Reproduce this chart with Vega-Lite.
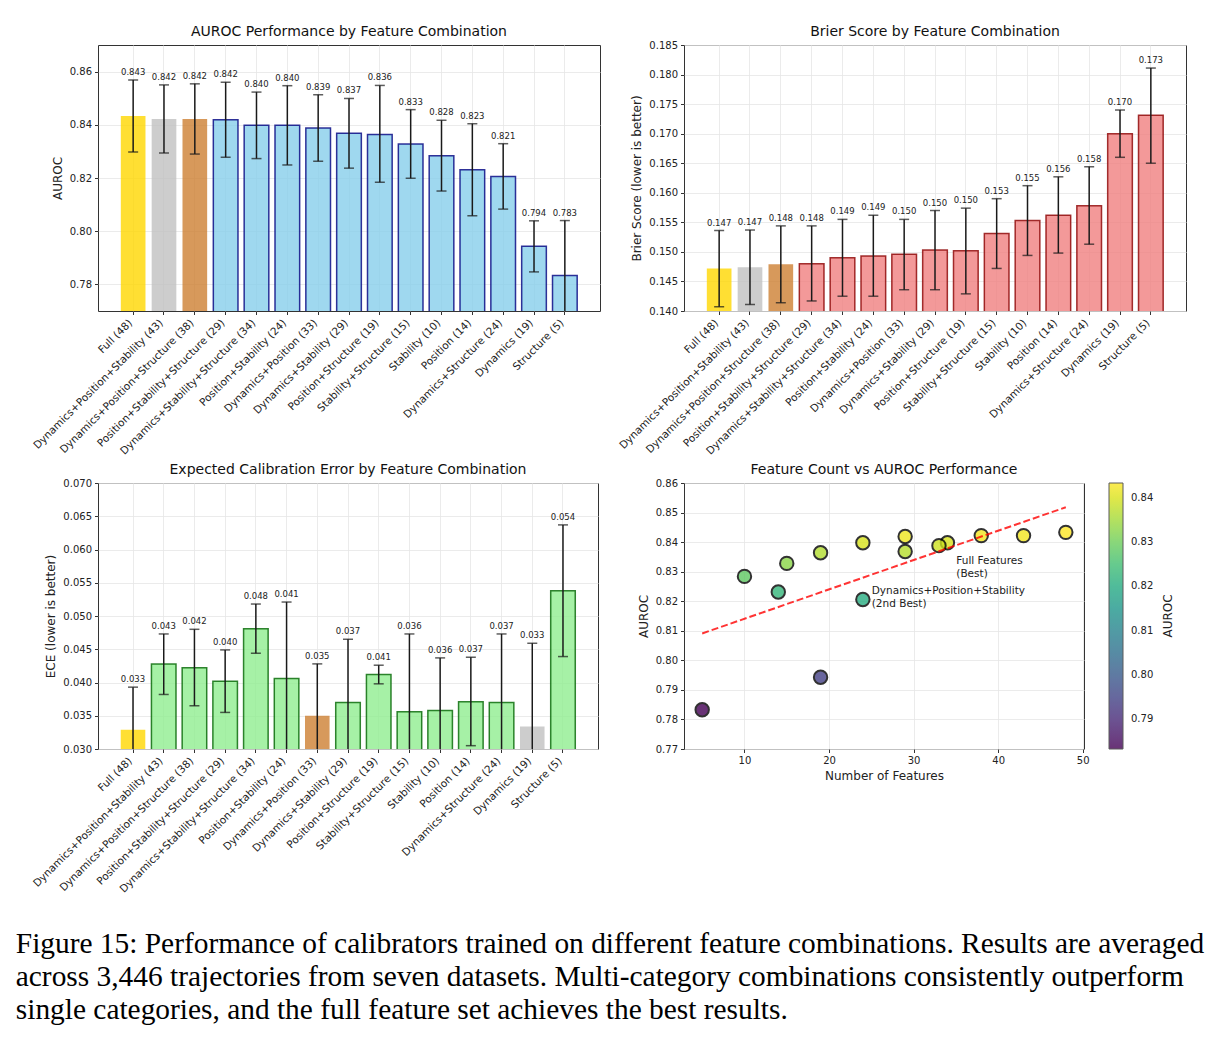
{
  "$schema": "https://vega.github.io/schema/vega-lite/v6.json",
  "background": "white",
  "padding": {"left": 15, "top": 24, "right": 5, "bottom": 5},
  "title": {
    "text": [
      "Figure 15: Performance of calibrators trained on different feature combinations. Results are averaged",
      "across 3,446 trajectories from seven datasets. Multi-category combinations consistently outperform",
      "single categories, and the full feature set achieves the best results."
    ],
    "orient": "bottom",
    "anchor": "start",
    "frame": "bounds",
    "font": "Liberation Serif",
    "fontSize": 29.4,
    "fontWeight": "normal",
    "lineHeight": 33,
    "color": "black",
    "offset": 35,
    "dx": -15
  },
  "datasets": {
    "feat": [
      {"name": "Full (48)", "n": 48, "auroc": 0.8433, "auroc_lo": 0.8298, "auroc_hi": 0.8568, "auroc_rank": "gold", "brier": 0.1472, "brier_lo": 0.1407, "brier_hi": 0.1536, "brier_rank": "gold", "ece": 0.0329, "ece_lo": 0.0265, "ece_hi": 0.0393, "ece_rank": "gold"},
      {"name": "Dynamics+Position+Stability (43)", "n": 43, "auroc": 0.8422, "auroc_lo": 0.8294, "auroc_hi": 0.8550, "auroc_rank": "silver", "brier": 0.1474, "brier_lo": 0.1411, "brier_hi": 0.1537, "brier_rank": "silver", "ece": 0.0428, "ece_lo": 0.0382, "ece_hi": 0.0473, "ece_rank": "other"},
      {"name": "Dynamics+Position+Structure (38)", "n": 38, "auroc": 0.8422, "auroc_lo": 0.8290, "auroc_hi": 0.8554, "auroc_rank": "bronze", "brier": 0.1479, "brier_lo": 0.1414, "brier_hi": 0.1544, "brier_rank": "bronze", "ece": 0.0422, "ece_lo": 0.0365, "ece_hi": 0.0480, "ece_rank": "other"},
      {"name": "Position+Stability+Structure (29)", "n": 29, "auroc": 0.8419, "auroc_lo": 0.8278, "auroc_hi": 0.8560, "auroc_rank": "other", "brier": 0.1480, "brier_lo": 0.1417, "brier_hi": 0.1544, "brier_rank": "other", "ece": 0.0402, "ece_lo": 0.0355, "ece_hi": 0.0449, "ece_rank": "other"},
      {"name": "Dynamics+Stability+Structure (34)", "n": 34, "auroc": 0.8398, "auroc_lo": 0.8273, "auroc_hi": 0.8523, "auroc_rank": "other", "brier": 0.1490, "brier_lo": 0.1425, "brier_hi": 0.1555, "brier_rank": "other", "ece": 0.0481, "ece_lo": 0.0444, "ece_hi": 0.0518, "ece_rank": "other"},
      {"name": "Position+Stability (24)", "n": 24, "auroc": 0.8398, "auroc_lo": 0.8249, "auroc_hi": 0.8547, "auroc_rank": "other", "brier": 0.1493, "brier_lo": 0.1425, "brier_hi": 0.1562, "brier_rank": "other", "ece": 0.0406, "ece_lo": 0.0291, "ece_hi": 0.0521, "ece_rank": "other"},
      {"name": "Dynamics+Position (33)", "n": 33, "auroc": 0.8388, "auroc_lo": 0.8263, "auroc_hi": 0.8513, "auroc_rank": "other", "brier": 0.1496, "brier_lo": 0.1436, "brier_hi": 0.1555, "brier_rank": "other", "ece": 0.0350, "ece_lo": 0.0272, "ece_hi": 0.0428, "ece_rank": "bronze"},
      {"name": "Dynamics+Stability (29)", "n": 29, "auroc": 0.8368, "auroc_lo": 0.8237, "auroc_hi": 0.8499, "auroc_rank": "other", "brier": 0.1503, "brier_lo": 0.1436, "brier_hi": 0.1570, "brier_rank": "other", "ece": 0.0370, "ece_lo": 0.0275, "ece_hi": 0.0465, "ece_rank": "other"},
      {"name": "Position+Structure (19)", "n": 19, "auroc": 0.8364, "auroc_lo": 0.8184, "auroc_hi": 0.8548, "auroc_rank": "other", "brier": 0.1502, "brier_lo": 0.1429, "brier_hi": 0.1574, "brier_rank": "other", "ece": 0.0412, "ece_lo": 0.0398, "ece_hi": 0.0426, "ece_rank": "other"},
      {"name": "Stability+Structure (15)", "n": 15, "auroc": 0.8328, "auroc_lo": 0.8199, "auroc_hi": 0.8457, "auroc_rank": "other", "brier": 0.1531, "brier_lo": 0.1472, "brier_hi": 0.1590, "brier_rank": "other", "ece": 0.0356, "ece_lo": 0.0240, "ece_hi": 0.0473, "ece_rank": "other"},
      {"name": "Stability (10)", "n": 10, "auroc": 0.8284, "auroc_lo": 0.8151, "auroc_hi": 0.8417, "auroc_rank": "other", "brier": 0.1553, "brier_lo": 0.1494, "brier_hi": 0.1612, "brier_rank": "other", "ece": 0.0358, "ece_lo": 0.0279, "ece_hi": 0.0437, "ece_rank": "other"},
      {"name": "Position (14)", "n": 14, "auroc": 0.8231, "auroc_lo": 0.8058, "auroc_hi": 0.8404, "auroc_rank": "other", "brier": 0.1562, "brier_lo": 0.1498, "brier_hi": 0.1627, "brier_rank": "other", "ece": 0.0371, "ece_lo": 0.0305, "ece_hi": 0.0438, "ece_rank": "other"},
      {"name": "Dynamics+Structure (24)", "n": 24, "auroc": 0.8206, "auroc_lo": 0.8083, "auroc_hi": 0.8329, "auroc_rank": "other", "brier": 0.1578, "brier_lo": 0.1513, "brier_hi": 0.1644, "brier_rank": "other", "ece": 0.0370, "ece_lo": 0.0267, "ece_hi": 0.0473, "ece_rank": "other"},
      {"name": "Dynamics (19)", "n": 19, "auroc": 0.7943, "auroc_lo": 0.7847, "auroc_hi": 0.8039, "auroc_rank": "other", "brier": 0.1700, "brier_lo": 0.1660, "brier_hi": 0.1740, "brier_rank": "other", "ece": 0.0334, "ece_lo": 0.0209, "ece_hi": 0.0459, "ece_rank": "silver"},
      {"name": "Structure (5)", "n": 5, "auroc": 0.7833, "auroc_lo": 0.7626, "auroc_hi": 0.8040, "auroc_rank": "other", "brier": 0.1731, "brier_lo": 0.1650, "brier_hi": 0.1811, "brier_rank": "other", "ece": 0.0538, "ece_lo": 0.0439, "ece_hi": 0.0637, "ece_rank": "other"}
    ],
    "trend": [
      {"n": 5, "fit": 0.8091},
      {"n": 48, "fit": 0.8518}
    ],
    "notes": [
      {"n": 35.05, "y": 0.8336, "note": "Full Features\n(Best)"},
      {"n": 25.05, "y": 0.8235, "note": "Dynamics+Position+Stability\n(2nd Best)"}
    ]
  },
  "columns": 2,
  "align": "none",
  "bounds": "flush",
  "spacing": {"row": 172, "column": 84},
  "resolve": {"scale": {"x": "independent", "y": "independent", "fill": "independent", "stroke": "independent", "color": "independent"}},
  "concat": [
    {
      "title": {"text": "AUROC Performance by Feature Combination", "offset": 6},
      "width": 502,
      "height": 266,
      "data": {"name": "feat"},
      "encoding": {
        "x": {"field": "name", "type": "nominal", "sort": null, "title": null,
          "scale": {"paddingInner": 0.2, "paddingOuter": 0.74},
          "axis": {"grid": true, "labelAngle": -45, "labelAlign": "right", "labelBaseline": "top", "labelLimit": 400, "bandPosition": 0.5, "labelOffset": -6, "labelFontSize": 10.5}}
      },
      "layer": [
        {"mark": {"type": "bar", "clip": true, "fillOpacity": 0.8, "strokeOpacity": 0.8, "strokeWidth": 1.5},
         "encoding": {
           "y": {"field": "auroc", "type": "quantitative", "title": "AUROC",
             "scale": {"domain": [0.77, 0.87], "zero": false, "nice": false},
             "axis": {"values": [0.78, 0.80, 0.82, 0.84, 0.86], "format": ".2f", "tickCount": 30}},
           "fill": {"field": "auroc_rank", "type": "nominal", "legend": null,
             "scale": {"domain": ["gold", "silver", "bronze", "other"], "range": ["#FFD700", "#C0C0C0", "#CD7F32", "#87CEEB"]}},
           "stroke": {"field": "auroc_rank", "type": "nominal", "legend": null,
             "scale": {"domain": ["gold", "silver", "bronze", "other"], "range": ["transparent", "transparent", "transparent", "#000080"]}}
         }},
        {"mark": {"type": "rule", "clip": true, "color": "#1a1a1a", "strokeWidth": 1.5},
         "encoding": {"y": {"field": "auroc_lo", "type": "quantitative", "title": "AUROC"}, "y2": {"field": "auroc_hi"}}},
        {"mark": {"type": "tick", "clip": true, "color": "#1a1a1a", "thickness": 1.5, "size": 10, "orient": "horizontal"},
         "encoding": {"y": {"field": "auroc_lo", "type": "quantitative", "title": "AUROC"}}},
        {"mark": {"type": "tick", "clip": true, "color": "#1a1a1a", "thickness": 1.5, "size": 10, "orient": "horizontal"},
         "encoding": {"y": {"field": "auroc_hi", "type": "quantitative", "title": "AUROC"}}},
        {"mark": {"type": "text", "baseline": "bottom", "dy": -3, "fontSize": 8.5, "color": "#222"},
         "encoding": {"y": {"field": "auroc_hi", "type": "quantitative", "title": "AUROC"},
           "text": {"field": "auroc", "type": "quantitative", "format": ".3f"}}}
      ]
    },
    {
      "title": {"text": "Brier Score by Feature Combination", "offset": 1},
      "width": 502,
      "height": 266,
      "data": {"name": "feat"},
      "encoding": {
        "x": {"field": "name", "type": "nominal", "sort": null, "title": null,
          "scale": {"paddingInner": 0.2, "paddingOuter": 0.74},
          "axis": {"grid": true, "labelAngle": -45, "labelAlign": "right", "labelBaseline": "top", "labelLimit": 400, "bandPosition": 0.5, "labelOffset": -6, "labelFontSize": 10.5}}
      },
      "layer": [
        {"mark": {"type": "bar", "clip": true, "fillOpacity": 0.8, "strokeOpacity": 0.8, "strokeWidth": 1.5},
         "encoding": {
           "y": {"field": "brier", "type": "quantitative", "title": "Brier Score (lower is better)",
             "scale": {"domain": [0.14, 0.185], "zero": false, "nice": false},
             "axis": {"values": [0.14, 0.145, 0.15, 0.155, 0.16, 0.165, 0.17, 0.175, 0.18, 0.185], "format": ".3f", "tickCount": 30}},
           "fill": {"field": "brier_rank", "type": "nominal", "legend": null,
             "scale": {"domain": ["gold", "silver", "bronze", "other"], "range": ["#FFD700", "#C0C0C0", "#CD7F32", "#F08080"]}},
           "stroke": {"field": "brier_rank", "type": "nominal", "legend": null,
             "scale": {"domain": ["gold", "silver", "bronze", "other"], "range": ["transparent", "transparent", "transparent", "#8B0000"]}}
         }},
        {"mark": {"type": "rule", "clip": true, "color": "#1a1a1a", "strokeWidth": 1.5},
         "encoding": {"y": {"field": "brier_lo", "type": "quantitative", "title": "Brier Score (lower is better)"}, "y2": {"field": "brier_hi"}}},
        {"mark": {"type": "tick", "clip": true, "color": "#1a1a1a", "thickness": 1.5, "size": 10, "orient": "horizontal"},
         "encoding": {"y": {"field": "brier_lo", "type": "quantitative", "title": "Brier Score (lower is better)"}}},
        {"mark": {"type": "tick", "clip": true, "color": "#1a1a1a", "thickness": 1.5, "size": 10, "orient": "horizontal"},
         "encoding": {"y": {"field": "brier_hi", "type": "quantitative", "title": "Brier Score (lower is better)"}}},
        {"mark": {"type": "text", "baseline": "bottom", "dy": -3, "fontSize": 8.5, "color": "#222"},
         "encoding": {"y": {"field": "brier_hi", "type": "quantitative", "title": "Brier Score (lower is better)"},
           "text": {"field": "brier", "type": "quantitative", "format": ".3f"}}}
      ]
    },
    {
      "title": {"text": "Expected Calibration Error by Feature Combination", "offset": 1},
      "width": 500,
      "height": 266,
      "data": {"name": "feat"},
      "encoding": {
        "x": {"field": "name", "type": "nominal", "sort": null, "title": null,
          "scale": {"paddingInner": 0.2, "paddingOuter": 0.74},
          "axis": {"grid": true, "labelAngle": -45, "labelAlign": "right", "labelBaseline": "top", "labelLimit": 400, "bandPosition": 0.5, "labelOffset": -6, "labelFontSize": 10.5}}
      },
      "layer": [
        {"mark": {"type": "bar", "clip": true, "fillOpacity": 0.8, "strokeOpacity": 0.8, "strokeWidth": 1.5},
         "encoding": {
           "y": {"field": "ece", "type": "quantitative", "title": "ECE (lower is better)",
             "scale": {"domain": [0.03, 0.07], "zero": false, "nice": false},
             "axis": {"values": [0.03, 0.035, 0.04, 0.045, 0.05, 0.055, 0.06, 0.065, 0.07], "format": ".3f", "tickCount": 30}},
           "fill": {"field": "ece_rank", "type": "nominal", "legend": null,
             "scale": {"domain": ["gold", "silver", "bronze", "other"], "range": ["#FFD700", "#C0C0C0", "#CD7F32", "#90EE90"]}},
           "stroke": {"field": "ece_rank", "type": "nominal", "legend": null,
             "scale": {"domain": ["gold", "silver", "bronze", "other"], "range": ["transparent", "transparent", "transparent", "#006400"]}}
         }},
        {"mark": {"type": "rule", "clip": true, "color": "#1a1a1a", "strokeWidth": 1.5},
         "encoding": {"y": {"field": "ece_lo", "type": "quantitative", "title": "ECE (lower is better)"}, "y2": {"field": "ece_hi"}}},
        {"mark": {"type": "tick", "clip": true, "color": "#1a1a1a", "thickness": 1.5, "size": 10, "orient": "horizontal"},
         "encoding": {"y": {"field": "ece_lo", "type": "quantitative", "title": "ECE (lower is better)"}}},
        {"mark": {"type": "tick", "clip": true, "color": "#1a1a1a", "thickness": 1.5, "size": 10, "orient": "horizontal"},
         "encoding": {"y": {"field": "ece_hi", "type": "quantitative", "title": "ECE (lower is better)"}}},
        {"mark": {"type": "text", "baseline": "bottom", "dy": -3, "fontSize": 8.5, "color": "#222"},
         "encoding": {"y": {"field": "ece_hi", "type": "quantitative", "title": "ECE (lower is better)"},
           "text": {"field": "ece", "type": "quantitative", "format": ".3f"}}}
      ]
    },
    {
      "title": {"text": "Feature Count vs AUROC Performance", "offset": 1},
      "width": 400,
      "height": 266,
      "layer": [
        {"data": {"name": "feat"},
         "mark": {"type": "circle", "size": 180, "opacity": 0.8, "stroke": "black", "strokeWidth": 2},
         "encoding": {
           "x": {"field": "n", "type": "quantitative", "title": "Number of Features",
             "scale": {"domain": [2.85, 50.15], "zero": false, "nice": false},
             "axis": {"values": [10, 20, 30, 40, 50], "tickCount": 30}},
           "y": {"field": "auroc", "type": "quantitative", "title": "AUROC",
             "scale": {"domain": [0.77, 0.86], "zero": false, "nice": false},
             "axis": {"values": [0.77, 0.78, 0.79, 0.8, 0.81, 0.82, 0.83, 0.84, 0.85, 0.86], "format": ".2f", "tickCount": 30}},
           "color": {"field": "auroc", "type": "quantitative",
             "scale": {"scheme": "viridis", "domain": [0.7833, 0.8433], "nice": false, "zero": false},
             "legend": {"type": "gradient", "direction": "vertical", "title": "AUROC", "titleOrient": "right",
               "gradientLength": 266, "gradientThickness": 14, "gradientStrokeColor": "#333", "gradientStrokeWidth": 1,
               "gradientOpacity": 0.8, "values": [0.79, 0.8, 0.81, 0.82, 0.83, 0.84], "format": ".2f",
               "offset": 25, "labelOffset": 8, "titlePadding": 10, "labelFontSize": 10, "labelColor": "#222", "titleFontSize": 12, "titleFontWeight": "normal", "titleColor": "#222",
               "labelOverlap": false, "encode": {"title": {"update": {"angle": {"value": -90}, "baseline": {"value": "top"}}}}}}
         }},
        {"data": {"name": "trend"},
         "mark": {"type": "line", "color": "red", "strokeWidth": 2, "opacity": 0.8, "strokeDash": [7, 3]},
         "encoding": {
           "x": {"field": "n", "type": "quantitative", "title": "Number of Features"},
           "y": {"field": "fit", "type": "quantitative", "title": "AUROC"}
         }},
        {"data": {"name": "notes"},
         "mark": {"type": "text", "align": "left", "baseline": "middle", "fontSize": 10.5, "lineBreak": "\n", "lineHeight": 13, "color": "#222"},
         "encoding": {
           "x": {"field": "n", "type": "quantitative", "title": "Number of Features"},
           "y": {"field": "y", "type": "quantitative", "title": "AUROC"},
           "text": {"field": "note"}
         }}
      ]
    }
  ],
  "config": {
    "font": "DejaVu Sans",
    "view": {"stroke": "#333", "strokeWidth": 1},
    "title": {"font": "DejaVu Sans", "fontSize": 14, "fontWeight": "normal", "offset": 6, "frame": "group", "color": "#111"},
    "axis": {"domain": false, "tickColor": "#333", "tickSize": 3.5, "tickWidth": 1, "labelFontSize": 10, "labelColor": "#222",
      "titleFontSize": 12, "titleFontWeight": "normal", "titleColor": "#222", "gridColor": "#e6e6e6", "gridWidth": 0.8,
      "labelPadding": 3, "titlePadding": 5, "labelFlush": false, "labelOverlap": false, "labelFont": "DejaVu Sans", "titleFont": "DejaVu Sans"},
    "legend": {"labelFont": "DejaVu Sans", "titleFont": "DejaVu Sans"}
  }
}
